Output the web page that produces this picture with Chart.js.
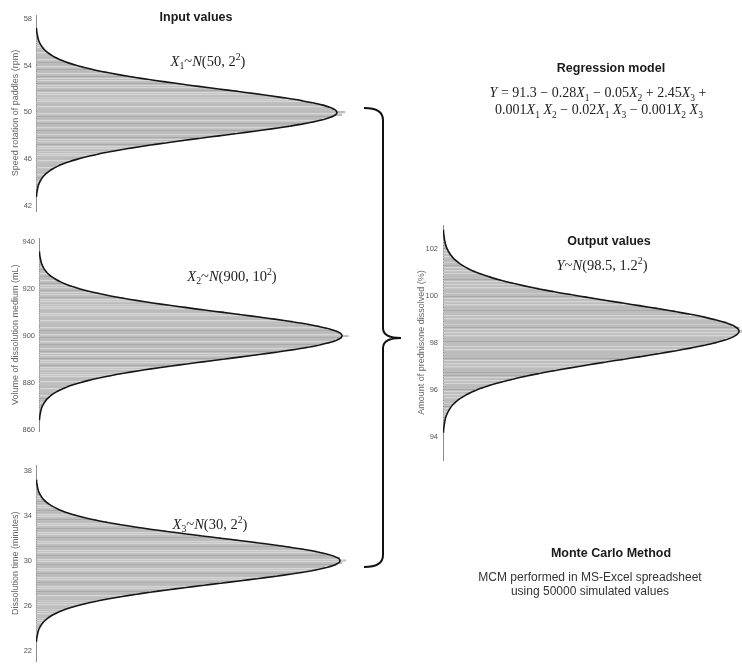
<!DOCTYPE html>
<html><head><meta charset="utf-8">
<script src="https://cdn.jsdelivr.net/npm/chart.js@4.4.1/dist/chart.umd.min.js"></script>
<style>
html,body{margin:0;padding:0;background:#fff;}
#wrap{position:relative;width:742px;height:670px;overflow:hidden;background:#fff;}
canvas{position:absolute;}
.t{position:absolute;transform:translate(-50%,-50%);white-space:nowrap;color:#111;}
.h{font:bold 12.5px "Liberation Sans",Arial,sans-serif;color:#1a1a1a;}
.m{font:14.5px "Liberation Serif","Times New Roman",serif;color:#222;}
.m.e{font-size:14px;}
.m i{font-style:italic;}
.m sub,.m sup{font-size:68%;line-height:0;}
.p{font:12px "Liberation Sans",Arial,sans-serif;color:#333;text-align:center;line-height:14px;}
svg{position:absolute;left:0;top:0;}
</style></head>
<body><div id="wrap">
<canvas id="c1" width="380" height="225" style="left:0;top:0"></canvas>
<canvas id="c2" width="380" height="215" style="left:0;top:225px"></canvas>
<canvas id="c3" width="380" height="220" style="left:0;top:450px"></canvas>
<canvas id="c4" width="337" height="255" style="left:405px;top:215px"></canvas>
<svg width="742" height="670"><path d="M364,108 Q383,108 383,120 L383,328 Q383,338 401,338 Q383,338 383,348 L383,555 Q383,567 364,567" fill="none" stroke="#111" stroke-width="2"/></svg>
<div class="t h" style="left:196px;top:17px">Input values</div>
<div class="t m" style="left:208px;top:61px"><i>X</i><sub>1</sub>~<i>N</i>(50, 2<sup>2</sup>)</div>
<div class="t m" style="left:232px;top:276px"><i>X</i><sub>2</sub>~<i>N</i>(900, 10<sup>2</sup>)</div>
<div class="t m" style="left:210px;top:524px"><i>X</i><sub>3</sub>~<i>N</i>(30, 2<sup>2</sup>)</div>
<div class="t h" style="left:611px;top:68px">Regression model</div>
<div class="t m e" style="left:598px;top:93px"><i>Y</i> = 91.3 &minus; 0.28<i>X</i><sub>1</sub> &minus; 0.05<i>X</i><sub>2</sub> + 2.45<i>X</i><sub>3</sub> +</div>
<div class="t m e" style="left:599px;top:110px">0.001<i>X</i><sub>1</sub> <i>X</i><sub>2</sub> &minus; 0.02<i>X</i><sub>1</sub> <i>X</i><sub>3</sub> &minus; 0.001<i>X</i><sub>2</sub> <i>X</i><sub>3</sub></div>
<div class="t h" style="left:609px;top:241px">Output values</div>
<div class="t m" style="left:602px;top:265px"><i>Y</i>~<i>N</i>(98.5, 1.2<sup>2</sup>)</div>
<div class="t h" style="left:611px;top:553px">Monte Carlo Method</div>
<div class="t p" style="left:590px;top:584px">MCM performed in MS-Excel spreadsheet<br>using 50000 simulated values</div>
</div>
<script>
// Bin centres of each histogram
const binsX1 = [42.8,43,43.2,43.4,43.6,43.8,44,44.2,44.4,44.6,44.8,45,45.2,45.4,45.6,45.8,46,46.2,46.4,46.6,46.8,47,47.2,47.4,47.6,47.8,48,48.2,48.4,48.6,48.8,49,49.2,49.4,49.6,49.8,50,50.2,50.4,50.6,50.8,51,51.2,51.4,51.6,51.8,52,52.2,52.4,52.6,52.8,53,53.2,53.4,53.6,53.8,54,54.2,54.4,54.6,54.8,55,55.2,55.4,55.6,55.8,56,56.2,56.4,56.6,56.8,57,57.2];
const binsX2 = [864,865,866,867,868,869,870,871,872,873,874,875,876,877,878,879,880,881,882,883,884,885,886,887,888,889,890,891,892,893,894,895,896,897,898,899,900,901,902,903,904,905,906,907,908,909,910,911,912,913,914,915,916,917,918,919,920,921,922,923,924,925,926,927,928,929,930,931,932,933,934,935,936];
const binsX3 = [22.8,23,23.2,23.4,23.6,23.8,24,24.2,24.4,24.6,24.8,25,25.2,25.4,25.6,25.8,26,26.2,26.4,26.6,26.8,27,27.2,27.4,27.6,27.8,28,28.2,28.4,28.6,28.8,29,29.2,29.4,29.6,29.8,30,30.2,30.4,30.6,30.8,31,31.2,31.4,31.6,31.8,32,32.2,32.4,32.6,32.8,33,33.2,33.4,33.6,33.8,34,34.2,34.4,34.6,34.8,35,35.2,35.4,35.6,35.8,36,36.2,36.4,36.6,36.8,37,37.2];
const binsY = [94.18,94.30,94.42,94.54,94.66,94.78,94.90,95.02,95.14,95.26,95.38,95.50,95.62,95.74,95.86,95.98,96.10,96.22,96.34,96.46,96.58,96.70,96.82,96.94,97.06,97.18,97.30,97.42,97.54,97.66,97.78,97.90,98.02,98.14,98.26,98.38,98.50,98.62,98.74,98.86,98.98,99.10,99.22,99.34,99.46,99.58,99.70,99.82,99.94,100.06,100.18,100.30,100.42,100.54,100.66,100.78,100.90,101.02,101.14,101.26,101.38,101.50,101.62,101.74,101.86,101.98,102.10,102.22,102.34,102.46,102.58,102.70,102.82];

// Simulated frequencies (50000 values each)
const countsX1 = [3,5,6,8,13,15,23,29,41,50,70,86,114,139,180,216,274,322,398,466,560,641,755,851,980,1080,1222,1320,1460,1551,1678,1750,1852,1898,1968,2030,2050,1978,1946,1915,1832,1770,1655,1570,1440,1338,1201,1095,965,862,741,652,550,474,391,330,266,222,174,145,110,90,66,53,39,31,21,17,11,9,6,4,3];
const countsX2 = [4,4,7,9,11,17,21,31,39,53,67,90,110,145,175,222,266,331,390,474,551,652,744,862,968,1093,1205,1336,1443,1570,1660,1768,1835,1915,1950,1998,2040,1990,1960,1898,1848,1752,1672,1555,1455,1325,1218,1084,978,852,752,645,560,466,399,323,274,215,180,139,115,86,70,50,41,29,23,15,13,8,6,4,3];
const countsX3 = [3,4,5,10,12,17,21,31,39,54,66,90,110,144,174,221,267,330,392,472,553,650,745,865,970,1092,1200,1338,1445,1568,1672,1755,1845,1900,1972,2010,2035,1995,1950,1900,1845,1755,1670,1560,1452,1326,1215,1085,975,855,745,650,552,468,398,325,272,216,179,140,113,87,69,51,41,30,22,16,12,9,6,4,3];
const countsY = [3,4,6,9,13,15,22,31,40,51,69,87,113,141,179,217,272,325,397,468,558,645,752,855,975,1086,1214,1328,1452,1558,1670,1758,1845,1903,1960,1990,2045,2000,1950,1910,1838,1765,1662,1566,1444,1335,1207,1092,970,860,745,650,553,472,393,328,268,220,176,143,111,89,67,53,39,30,22,16,12,9,6,4,3];

// Fitted normal curve, expected frequency per bin (bins are 0.1 sigma wide)
const fittedCounts = [3,4,6,9,12,16,22,30,40,52,68,88,112,142,177,219,270,327,395,470,555,648,748,858,972,1089,1210,1331,1448,1562,1666,1761,1841,1907,1955,1985,1995,1985,1955,1907,1841,1761,1666,1562,1448,1331,1210,1089,972,858,748,648,555,470,395,327,270,219,177,142,112,88,68,52,40,30,22,16,12,9,6,4,3];

// Axis tick labels
const ticksX1 = [42,46,50,54,58];
const ticksX2 = [860,880,900,920,940];
const ticksX3 = [22,26,30,34,38];
const ticksY = [94,96,98,100,102];

function panel(id, bins, counts, fitted, ticks, cfg){
  const bars = bins.map((b,i)=>({x:counts[i], y:b}));
  const curve = bins.map((b,i)=>({x:fitted[i], y:b}));
  return new Chart(document.getElementById(id), {
    type:'bar',
    data:{datasets:[
      {type:'line', data:curve, indexAxis:'y', borderColor:'#161616', borderWidth:1.6, pointRadius:0, tension:0.3, fill:false, order:0},
      {type:'bar', data:bars, backgroundColor:'#bdbdbd', borderColor:'#858585', borderWidth:{top:0.7,bottom:0,left:0,right:0}, borderSkipped:false, barPercentage:1, categoryPercentage:1, inflateAmount:0, order:1}
    ]},
    options:{
      indexAxis:'y', responsive:false, animation:false, events:[],
      layout:{padding:{top:cfg.padTop,bottom:cfg.padBottom,left:0,right:0}},
      plugins:{legend:{display:false},tooltip:{enabled:false}},
      scales:{
        x:{type:'linear',display:false,min:0,max:cfg.xMax,offset:false},
        y:{type:'linear',min:cfg.yMin,max:cfg.yMax,offset:false,
          grid:{display:false,drawTicks:false,offset:false},
          border:{display:true,color:'#8c8c8c',width:1},
          ticks:{font:{family:'Liberation Sans',size:7.5},color:'#555',padding:cfg.tickPad},
          title:{display:true,text:cfg.title,font:{family:'Liberation Sans',size:9},color:'#666',padding:{top:cfg.titlePad,bottom:0}},
          afterBuildTicks:(s)=>{s.ticks=ticks.map(v=>({value:v}));},
          afterFit:(s)=>{s.width=cfg.axisW;}
        }
      }
    }
  });
}

panel('c1', binsX1, countsX1, fittedCounts, ticksX1, {padTop:15,padBottom:14,yMin:41.6,yMax:58.3,xMax:2280,axisW:36,tickPad:4,titlePad:10,title:'Speed rotation of paddles (rpm)'});
panel('c2', binsX2, countsX2, fittedCounts, ticksX2, {padTop:13,padBottom:7,yMin:859.2,yMax:941.7,xMax:2245,axisW:39,tickPad:4,titlePad:10,title:'Volume of dissolution medium (mL)'});
panel('c3', binsX3, countsX3, fittedCounts, ticksX3, {padTop:15,padBottom:0,yMin:21.05,yMax:38.5,xMax:2257,axisW:36,tickPad:4,titlePad:10,title:'Dissolution time (minutes)'});
panel('c4', binsY, countsY, fittedCounts, ticksY, {padTop:10,padBottom:10,yMin:93.02,yMax:103.02,xMax:2015,axisW:38,tickPad:5,titlePad:11,title:'Amount of prednisone dissolved (%)'});
</script>
</body></html>
